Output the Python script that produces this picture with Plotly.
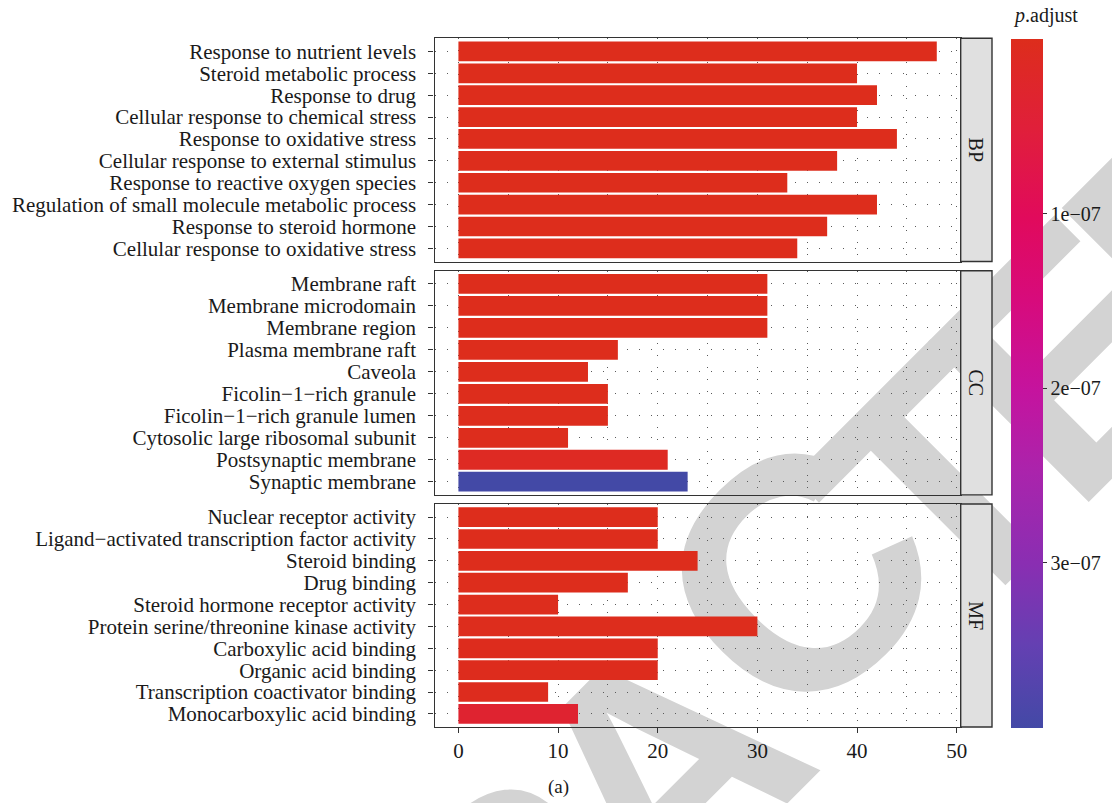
import math
import plotly.graph_objects as go
from plotly.subplots import make_subplots

M = "\u2212"

bp_terms = ["Response to nutrient levels", "Steroid metabolic process", "Response to drug",
            "Cellular response to chemical stress", "Response to oxidative stress",
            "Cellular response to external stimulus", "Response to reactive oxygen species",
            "Regulation of small molecule metabolic process", "Response to steroid hormone",
            "Cellular response to oxidative stress"]
bp_counts = [48, 40, 42, 40, 44, 38, 33, 42, 37, 34]
bp_padj = [1.0e-12, 2.0e-12, 3.0e-12, 4.0e-12, 5.0e-12, 8.0e-12, 1.2e-11, 2.0e-11, 3.0e-11, 5.0e-11]

cc_terms = ["Membrane raft", "Membrane microdomain", "Membrane region", "Plasma membrane raft",
            "Caveola", f"Ficolin{M}1{M}rich granule", f"Ficolin{M}1{M}rich granule lumen",
            "Cytosolic large ribosomal subunit", "Postsynaptic membrane", "Synaptic membrane"]
cc_counts = [31, 31, 31, 16, 13, 15, 15, 11, 21, 23]
cc_padj = [6.0e-11, 6.0e-11, 7.0e-11, 2.0e-10, 5.0e-10, 8.0e-10, 9.0e-10, 1.5e-9, 1.2e-8, 3.95e-7]

mf_terms = ["Nuclear receptor activity", f"Ligand{M}activated transcription factor activity",
            "Steroid binding", "Drug binding", "Steroid hormone receptor activity",
            "Protein serine/threonine kinase activity", "Carboxylic acid binding",
            "Organic acid binding", "Transcription coactivator binding", "Monocarboxylic acid binding"]
mf_counts = [20, 20, 24, 17, 10, 30, 20, 20, 9, 12]
mf_padj = [1.0e-10, 1.0e-10, 2.0e-10, 6.0e-10, 1.0e-9, 1.5e-9, 2.0e-9, 2.5e-9, 4.0e-9, 3.5e-8]

facets = ["BP", "CC", "MF"]
cbar_ticks = [1e-7, 2e-7, 3e-7]
cbar_ticktext = [f"1e{M}07", f"2e{M}07", f"3e{M}07"]
x_ticks = [0, 10, 20, 30, 40, 50]

watermark = "RETRACTED"

W, H = 1112, 803
FONT = "Liberation Serif"
FS = 21
TXT = "#1a1a1a"
LINE = "#333333"

all_p = bp_padj + cc_padj + mf_padj
pmin, pmax = min(all_p), max(all_p)

colorscale = [
    [0.00, "#4349A6"], [0.12, "#6440B2"], [0.24, "#8A2EB2"], [0.37, "#AA24AC"],
    [0.49, "#C5139E"], [0.62, "#D70B7C"], [0.74, "#E10A5C"], [0.87, "#E01F3A"],
    [1.00, "#DD2D1C"],
]

# pixel layout
px_left, px_right, strip_right = 434.5, 960.7, 992.0
panels_px = [(38.3, 261.5), (270.8, 494.9), (504.0, 727.0)]

fig = make_subplots(rows=3, cols=1, shared_xaxes=True)

groups = [(bp_terms, bp_counts, bp_padj), (cc_terms, cc_counts, cc_padj), (mf_terms, mf_counts, mf_padj)]
for i, (terms, counts, padj) in enumerate(groups):
    fig.add_trace(go.Bar(
        y=terms, x=counts, orientation="h",
        marker=dict(color=[-p for p in padj], coloraxis="coloraxis", line=dict(width=0)),
        width=0.9, showlegend=False,
    ), row=i + 1, col=1)

grid = dict(gridcolor="#5a5a5a", gridwidth=1, griddash="1px,11px")
for i in range(3):
    top, bot = panels_px[i]
    yname = "yaxis" if i == 0 else f"yaxis{i+1}"
    xname = "xaxis" if i == 0 else f"xaxis{i+1}"
    terms = groups[i][0]
    fig.layout[yname].update(
        domain=[1 - bot / H, 1 - top / H],
        type="category",
        categoryorder="array", categoryarray=terms,
        tickmode="array", tickvals=terms, ticktext=terms,
        range=[len(terms) - 1 + 0.6, -0.6],
        showline=True, mirror=True, linecolor=LINE, linewidth=1.4,
        ticks="outside", ticklen=5, tickwidth=1.2, tickcolor=LINE,
        ticklabelstandoff=8,
        tickfont=dict(family=FONT, size=FS, color=TXT),
        showgrid=True, zeroline=False, automargin=False, **grid,
    )
    fig.layout[xname].update(
        domain=[px_left / W, px_right / W],
        range=[-2.4, 50.4],
        tickvals=x_ticks,
        showline=True, mirror=True, linecolor=LINE, linewidth=1.4,
        showgrid=True, zeroline=False, automargin=False,
        minor=dict(dtick=5, tick0=0, showgrid=True, **grid),
        **grid,
    )
    if i < 2:
        fig.layout[xname].update(showticklabels=False, ticks="")
    else:
        fig.layout[xname].update(ticks="outside", ticklen=5, tickwidth=1.2, tickcolor=LINE,
                                 tickfont=dict(family=FONT, size=FS, color=TXT))

shapes = []
annotations = []

# watermark letters laid along a 45-degree line (behind the plot)
adv = {"R": 0.722, "E": 0.667, "T": 0.611, "A": 0.722, "C": 0.722, "D": 0.722}
nudge = {5: (-10, -45)}
ang = math.radians(45)
ux, uy = math.cos(ang), -math.sin(ang)
anchor_idx, anchor_xy = 5, (785, 600)   # the "C"
step = 285                               # px per em along baseline
cum, centers = 0.0, []
for ch in watermark:
    centers.append(cum + adv[ch] / 2)
    cum += adv[ch]
for k, ch in enumerate(watermark):
    a = (centers[k] - centers[anchor_idx]) * step
    dx, dy = nudge.get(k, (0, 0))
    cx, cy = anchor_xy[0] + a * ux + dx, anchor_xy[1] + a * uy + dy
    shapes.append(dict(
        type="rect", xref="paper", yref="paper",
        x0=(cx - 5) / W, x1=(cx + 5) / W, y0=1 - (cy + 5) / H, y1=1 - (cy - 5) / H,
        line=dict(width=0), fillcolor="rgba(0,0,0,0)", layer="below",
        label=dict(text=ch, textangle=-45, textposition="middle center",
                   font=dict(family="Liberation Sans", size=330, color="#d3d3d3", weight="bold")),
    ))

for i, name in enumerate(facets):
    top, bot = panels_px[i]
    shapes.append(dict(
        type="rect", xref="paper", yref="paper",
        x0=px_right / W, x1=strip_right / W, y0=1 - bot / H, y1=1 - top / H,
        line=dict(color=LINE, width=1.4), fillcolor="#e0e0e0", layer="above",
    ))
    annotations.append(dict(
        x=(px_right + strip_right) / 2 / W, y=1 - (top + bot) / 2 / H,
        xref="paper", yref="paper", text=name, showarrow=False, textangle=90,
        xanchor="center", yanchor="middle",
        font=dict(family=FONT, size=FS - 1, color=TXT),
    ))

annotations.append(dict(x=1011 / W, y=1 - 16 / H, xref="paper", yref="paper",
                        text="<i>p</i>.adjust", showarrow=False, xanchor="left", yanchor="middle",
                        font=dict(family=FONT, size=FS - 1, color=TXT)))
annotations.append(dict(x=558 / W, y=1 - 787 / H, xref="paper", yref="paper",
                        text="(a)", showarrow=False, xanchor="center", yanchor="middle",
                        font=dict(family=FONT, size=FS - 2, color=TXT)))

fig.update_layout(
    width=W, height=H,
    margin=dict(l=0, r=0, t=0, b=0),
    paper_bgcolor="white", plot_bgcolor="rgba(0,0,0,0)",
    bargap=0.1,
    shapes=shapes, annotations=annotations,
    coloraxis=dict(
        cmin=-pmax, cmax=-pmin, colorscale=colorscale,
        colorbar=dict(
            thickness=32, thicknessmode="pixels",
            len=(728.3 - 39.3) / H, lenmode="fraction",
            x=1011 / W, xanchor="left", y=1 - 39.3 / H, yanchor="top",
            outlinewidth=0, xpad=0, ypad=0,
            ticks="outside", ticklen=4, tickwidth=1.2, tickcolor=LINE,
            tickvals=[-t for t in cbar_ticks], ticktext=cbar_ticktext,
            tickfont=dict(family=FONT, size=FS - 1, color=TXT),
        ),
    ),
)

fig.write_html("out.html", config={"displayModeBar": False},
               post_script="document.body.style.margin='0px';document.body.style.overflow='hidden';")
